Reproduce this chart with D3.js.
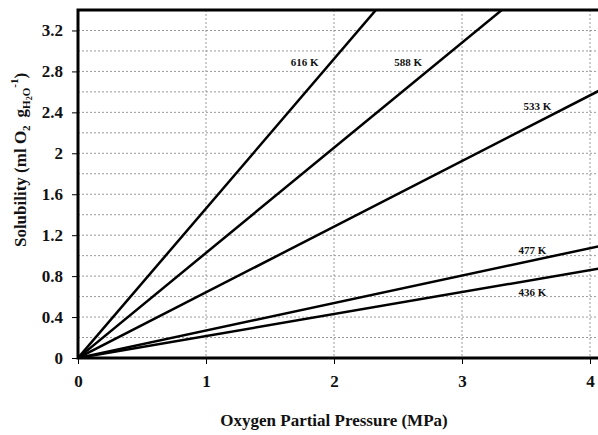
<!DOCTYPE html>
<html>
<head>
<meta charset="utf-8">
<script src="https://cdn.jsdelivr.net/npm/d3@7"></script>
<style>
  body { margin: 0; background: #fff; }
  text { font-family: "Liberation Serif", "DejaVu Serif", serif; font-weight: bold; fill: #111; }
</style>
</head>
<body>
<div id="chart"></div>
<script>
// pressure end points (MPa) and solubility at those points
const pressure = [0, 4.1];
const series = [
    { name: '616 K', values: [0, 5.99] },
    { name: '588 K', values: [0, 4.21] },
    { name: '533 K', values: [0, 2.63] },
    { name: '477 K', values: [0, 1.10] },
    { name: '436 K', values: [0, 0.88] }
];
// label anchor positions in data units
const labelX = [1.77, 2.58, 3.59, 3.55, 3.55];
const labelY = [2.89, 2.89, 2.46, 1.05, 0.64];
const xTicks = [0, 1, 2, 3, 4];
const yTicks = [0, 0.4, 0.8, 1.2, 1.6, 2, 2.4, 2.8, 3.2];
const yGrid = d3.range(1, 17).map(i => i * 0.2);

const W = 598, H = 435;
const margin = { top: 10, right: 0, bottom: 77, left: 78 };
const width = W - margin.left - margin.right;
const height = H - margin.top - margin.bottom;

const svg = d3.select('#chart').append('svg')
    .attr('width', W)
    .attr('height', H);

const g = svg.append('g')
    .attr('transform', `translate(${margin.left},${margin.top})`);

const x = d3.scaleLinear().domain([0, 4.0625]).range([0, width]);
const y = d3.scaleLinear().domain([0, 3.4]).range([height, 0]);

svg.append('defs').append('clipPath').attr('id', 'clip')
    .append('rect').attr('width', width).attr('height', height);

// dotted grid
g.selectAll('.hgrid')
    .data(yGrid)
    .enter().append('line')
    .attr('x1', 0).attr('x2', width)
    .attr('y1', d => y(d)).attr('y2', d => y(d))
    .attr('stroke', '#999')
    .attr('stroke-width', 1)
    .attr('stroke-dasharray', '2,2');

g.selectAll('.vgrid')
    .data(xTicks.slice(1))
    .enter().append('line')
    .attr('x1', d => x(d)).attr('x2', d => x(d))
    .attr('y1', 0).attr('y2', height)
    .attr('stroke', '#999')
    .attr('stroke-width', 1)
    .attr('stroke-dasharray', '2,2');

// lines
const line = d3.line()
    .x((d, i) => x(pressure[i]))
    .y(d => y(d));

g.append('g').attr('clip-path', 'url(#clip)')
    .selectAll('path')
    .data(series)
    .enter().append('path')
    .attr('d', d => line(d.values))
    .attr('fill', 'none')
    .attr('stroke', '#000')
    .attr('stroke-width', 2.5);

// line labels
g.selectAll('.lab')
    .data(series)
    .enter().append('text')
    .attr('x', (d, i) => x(labelX[i]))
    .attr('y', (d, i) => y(labelY[i]))
    .attr('dy', '0.35em')
    .attr('text-anchor', 'middle')
    .style('font-size', '11px')
    .text(d => d.name);

// axes
const xAxis = g.append('g')
    .attr('transform', `translate(0,${height})`)
    .call(d3.axisBottom(x).tickValues(xTicks).tickFormat(d3.format('d')).tickSize(6).tickPadding(11));
xAxis.select('.domain').remove();
xAxis.selectAll('text').style('font-size', '17px');

const yAxis = g.append('g')
    .call(d3.axisLeft(y).tickValues(yTicks).tickFormat(d => d).tickSize(6).tickPadding(9));
yAxis.select('.domain').remove();
yAxis.selectAll('text').style('font-size', '17px');

// frame: left, top, bottom
g.append('path')
    .attr('d', `M${width},0H0V${height}H${width}`)
    .attr('fill', 'none')
    .attr('stroke', '#000')
    .attr('stroke-width', 3);

// axis titles
svg.append('text')
    .attr('x', margin.left + x(2))
    .attr('y', 426)
    .attr('text-anchor', 'middle')
    .style('font-size', '17px')
    .text('Oxygen Partial Pressure (MPa)');

const yt = svg.append('text')
    .attr('transform', `translate(26,${margin.top + 150}) rotate(-90)`)
    .attr('text-anchor', 'middle')
    .style('font-size', '17px');
yt.append('tspan').text('Solubility (ml O');
yt.append('tspan').attr('dy', 4).style('font-size', '11px').text('2');
yt.append('tspan').attr('dy', -4).attr('dx', 8).text('g');
yt.append('tspan').attr('dy', 4).style('font-size', '11px').text('H');
yt.append('tspan').attr('dy', 2).style('font-size', '8px').text('2');
yt.append('tspan').attr('dy', -2).style('font-size', '11px').text('O');
yt.append('tspan').attr('dy', -12).style('font-size', '11px').text('-1');
yt.append('tspan').attr('dy', 8).text(')');
</script>
</body>
</html>
